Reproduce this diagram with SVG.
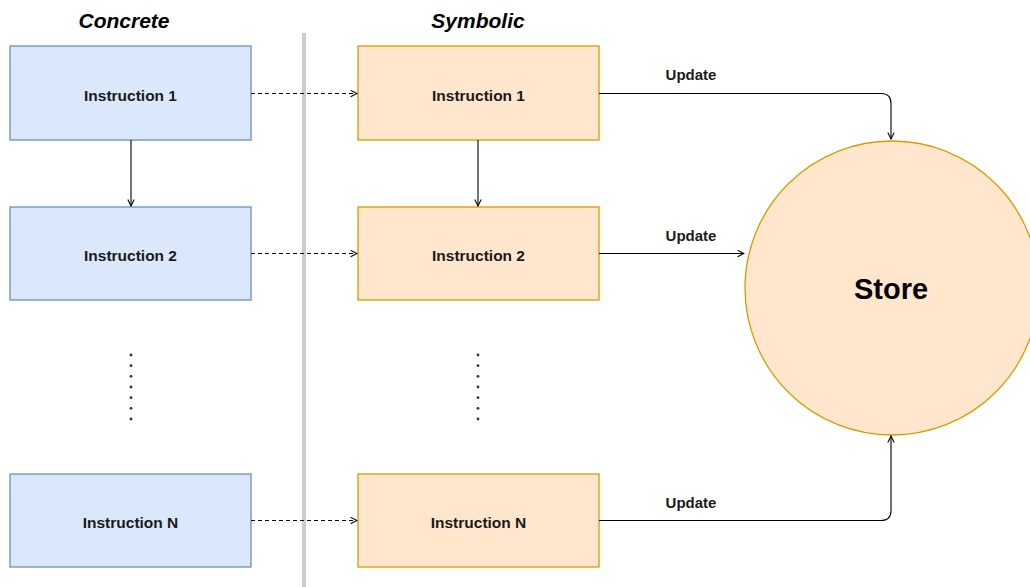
<svg xmlns="http://www.w3.org/2000/svg" width="1030" height="587" viewBox="0 0 1030 587">
<style>
.blue{fill:#dae8fc;stroke:#6c8ebf;stroke-width:1.3}
.orange{fill:#ffe6cc;stroke:#d79b00;stroke-width:1.3}
.lbl{font-family:"Liberation Sans",Arial,sans-serif;font-weight:bold;font-size:15.5px;fill:#1a1a1a;text-anchor:middle}
.ttl{font-family:"Liberation Sans",Arial,sans-serif;font-weight:bold;font-style:italic;font-size:21px;fill:#000;text-anchor:middle}
.upd{font-family:"Liberation Sans",Arial,sans-serif;font-weight:bold;font-size:15px;fill:#1a1a1a;text-anchor:middle}
.c{fill:none;stroke:#000;stroke-width:1.1}
.d{fill:none;stroke:#000;stroke-width:1;stroke-dasharray:4 3}
.dot{fill:#333}
</style>
<defs>
<marker id="a" viewBox="0 0 10 10" refX="9" refY="5" markerWidth="8" markerHeight="8" markerUnits="userSpaceOnUse" orient="auto">
<path d="M1,1 L9,5 L1,9" fill="none" stroke="#000" stroke-width="1.3"/>
</marker>
</defs>
<rect width="1030" height="587" fill="#fff"/>
<line x1="304" y1="33" x2="304" y2="587" stroke="#cccccc" stroke-width="4"/>
<text class="ttl" x="124" y="28">Concrete</text>
<text class="ttl" x="478" y="28">Symbolic</text>
<g id="store"><circle class="orange" cx="892" cy="288" r="147"/><text x="891" y="299" font-family="Liberation Sans,Arial,sans-serif" font-weight="bold" font-size="29" text-anchor="middle" fill="#000">Store</text></g>
<g id="c1"><rect class="blue" x="10" y="46" width="241" height="94"/><text class="lbl" x="130.5" y="100.5">Instruction 1</text></g>
<g id="c2"><rect class="blue" x="10" y="207" width="241" height="93"/><text class="lbl" x="130.5" y="260.5">Instruction 2</text></g>
<g id="cN"><rect class="blue" x="10" y="474" width="241" height="93"/><text class="lbl" x="130.5" y="527.5">Instruction N</text></g>
<g id="s1"><rect class="orange" x="358" y="46" width="241" height="94"/><text class="lbl" x="478.5" y="100.5">Instruction 1</text></g>
<g id="s2"><rect class="orange" x="358" y="207" width="241" height="93"/><text class="lbl" x="478.5" y="260.5">Instruction 2</text></g>
<g id="sN"><rect class="orange" x="358" y="474" width="241" height="93"/><text class="lbl" x="478.5" y="527.5">Instruction N</text></g>
<g id="dots">
<circle class="dot" cx="131" cy="355" r="1.4"/><circle class="dot" cx="131" cy="365.7" r="1.4"/><circle class="dot" cx="131" cy="376.3" r="1.4"/><circle class="dot" cx="131" cy="387" r="1.4"/><circle class="dot" cx="131" cy="397.7" r="1.4"/><circle class="dot" cx="131" cy="408.3" r="1.4"/><circle class="dot" cx="131" cy="419" r="1.4"/>
<circle class="dot" cx="478" cy="355" r="1.4"/><circle class="dot" cx="478" cy="365.7" r="1.4"/><circle class="dot" cx="478" cy="376.3" r="1.4"/><circle class="dot" cx="478" cy="387" r="1.4"/><circle class="dot" cx="478" cy="397.7" r="1.4"/><circle class="dot" cx="478" cy="408.3" r="1.4"/><circle class="dot" cx="478" cy="419" r="1.4"/>
</g>
<g id="connectors">
<line class="c" x1="131" y1="140" x2="131" y2="206" marker-end="url(#a)"/>
<line class="c" x1="478" y1="140" x2="478" y2="206" marker-end="url(#a)"/>
<line class="d" x1="251" y1="93.5" x2="357" y2="93.5" marker-end="url(#a)"/>
<line class="d" x1="251" y1="253.5" x2="357" y2="253.5" marker-end="url(#a)"/>
<line class="d" x1="251" y1="520.5" x2="357" y2="520.5" marker-end="url(#a)"/>
<path class="c" d="M599,93.5 L881,93.5 Q891,93.5 891,103.5 L891,139" marker-end="url(#a)"/>
<path class="c" d="M599,253.5 L744,253.5" marker-end="url(#a)"/>
<path class="c" d="M599,520.5 L881,520.5 Q891,520.5 891,510.5 L891,436" marker-end="url(#a)"/>
<text class="upd" x="691" y="80">Update</text>
<text class="upd" x="691" y="241">Update</text>
<text class="upd" x="691" y="508">Update</text>
</g>
</svg>
